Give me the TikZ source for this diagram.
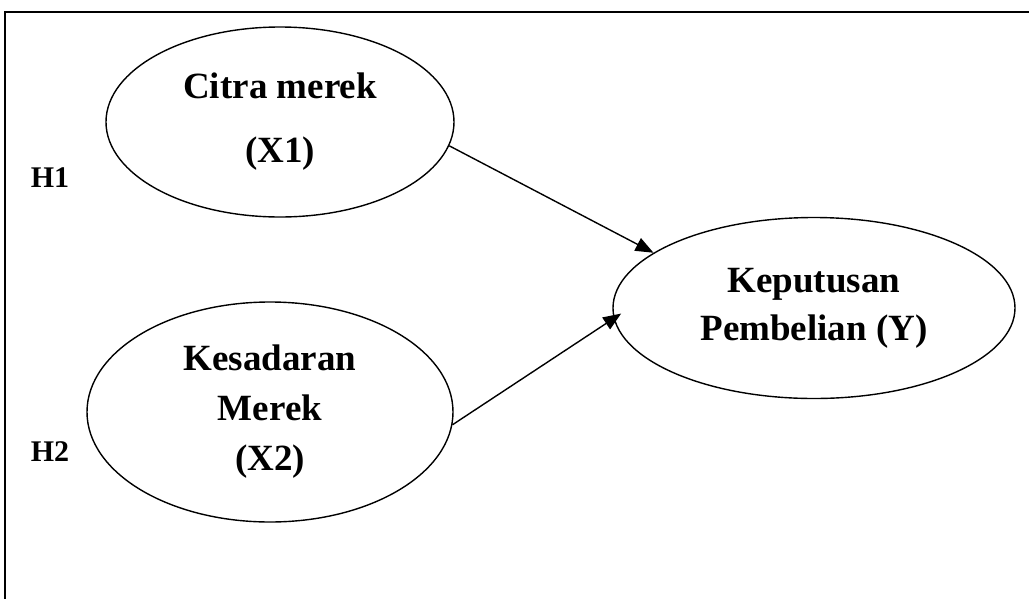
\documentclass[tikz,border=0pt]{standalone}
\usepackage{fontspec}
\setmainfont{Liberation Serif}
\usetikzlibrary{shapes.geometric,arrows.meta}
\begin{document}
\begin{tikzpicture}[x=1pt,y=-1pt,
  var/.style={ellipse, draw, line width=1.4pt, inner sep=0pt, align=center,
    font=\fontsize{37}{50}\selectfont\bfseries},
  hyp/.style={font=\fontsize{30}{34}\selectfont\bfseries, inner sep=0pt},
  arr/.style={-{Triangle[length=18pt,width=14pt]}, line width=1.4pt}]
\useasboundingbox (0,0) rectangle (1029,598);
\draw[line width=2pt] (5,610) -- (5,12) -- (1040,12);
\node[var, minimum width=348pt, minimum height=190pt] (c1) at (280,122) {Citra merek\\[14pt](X1)};
\node[var, minimum width=366pt, minimum height=220pt] (c2) at (270,412) {Kesadaran\\Merek\\(X2)};
\node[var, minimum width=402pt, minimum height=181pt] (y) at (814,308) {Keputusan\\[-2pt]Pembelian (Y)};
\node[hyp] (h1) at (50,178) {H1};
\node[hyp] (h2) at (50,452) {H2};
\draw[arr] (c1.-8) -- (y.161);
\draw[arr, shorten >=-9pt] (c2.-4) -- (y.183);
\end{tikzpicture}
\end{document}
